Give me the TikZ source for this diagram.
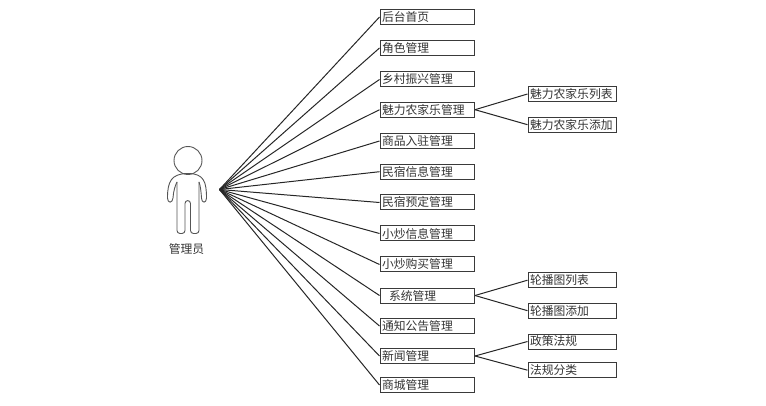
\documentclass[tikz,border=0pt]{standalone}
\usepackage{fontspec}
\setmainfont{Noto Sans CJK SC}
\definecolor{ink}{HTML}{333333}
\definecolor{frame}{HTML}{3A3A3A}
\definecolor{figure}{HTML}{555555}

\begin{document}
\begin{tikzpicture}[x=1pt,y=-1pt,
  every node/.style={text=ink,font=\fontsize{11.8}{13}\selectfont,inner sep=0pt},
  item/.style={draw=frame,line width=1pt,anchor=west,minimum height=15pt,
    text width=90.5pt,inner xsep=2pt,align=left},
  subitem/.style={item,text width=84.5pt},
  link/.style={draw=black!85,line width=1pt},
  actor/.style={draw=figure,line width=.9pt,line join=round}]
\useasboundingbox (0,0) rectangle (766,406);

% Actor outline, drawn directly.
\draw[actor] (188,160.5) circle (14);
\draw[actor,rounded corners=3pt] (177,182) -- (177,233.5) -- (185,233.5) -- (185,200.5)
  -- (190.5,200.5) -- (190.5,233.5) -- (199,233.5) -- (199,182);
\draw[actor] (177,182) .. controls (175,186) and (173.5,191) .. (173,198)
  .. controls (172.5,203.5) and (167.5,203.5) .. (167.5,198)
  .. controls (167.5,182) and (171,173.5) .. (188,173.5)
  .. controls (204,173.5) and (206.5,182) .. (206.5,198)
  .. controls (206.5,203.5) and (201.5,203.5) .. (201.5,198)
  .. controls (201,191) and (200.5,186) .. (199,182);
\node (adminlabel) at (186.5,249) {管理员};
\coordinate (hub) at (219.5,189.5);

% First level, one box for each function.
\node[item] (home)    at (379.5,17)    {后台首页};
\node[item] (role)    at (379.5,48)    {角色管理};
\node[item] (village) at (379.5,79.5)  {乡村振兴管理};
\node[item] (farm)    at (379.5,109.7) {魅力农家乐管理};
\node[item] (goods)   at (379.5,141)   {商品入驻管理};
\node[item] (stayinfo) at (379.5,171.7) {民宿信息管理};
\node[item] (staybook) at (379.5,202.5) {民宿预定管理};
\node[item] (foodinfo) at (379.5,233.5) {小炒信息管理};
\node[item] (foodbuy) at (379.5,264.5) {小炒购买管理};
\node[item] (system)  at (379.5,295.5) {\hspace*{7pt}系统管理};
\node[item] (notice)  at (379.5,326)   {通知公告管理};
\node[item] (news)    at (379.5,356)   {新闻管理};
\node[item] (shop)    at (379.5,385)   {商城管理};

% Second level.
\node[subitem] (farmlist) at (527.5,94)    {魅力农家乐列表};
\node[subitem] (farmadd)  at (527.5,124.7) {魅力农家乐添加};
\node[subitem] (slidelist) at (527.5,280.2) {轮播图列表};
\node[subitem] (slideadd) at (527.5,310.7) {轮播图添加};
\node[subitem] (policy)   at (527.5,341.5) {政策法规};
\node[subitem] (lawtype)  at (527.5,370.2) {法规分类};

\draw[link] (hub) -- (home.west);
\draw[link] (hub) -- (role.west);
\draw[link] (hub) -- (village.west);
\draw[link] (hub) -- (farm.west);
\draw[link] (hub) -- (goods.west);
\draw[link] (hub) -- (stayinfo.west);
\draw[link] (hub) -- (staybook.west);
\draw[link] (hub) -- (foodinfo.west);
\draw[link] (hub) -- (foodbuy.west);
\draw[link] (hub) -- (system.west);
\draw[link] (hub) -- (notice.west);
\draw[link] (hub) -- (news.west);
\draw[link] (hub) -- (shop.west);

\draw[link] (farm.east) -- (farmlist.west);
\draw[link] (farm.east) -- (farmadd.west);
\draw[link] (system.east) -- (slidelist.west);
\draw[link] (system.east) -- (slideadd.west);
\draw[link] (news.east) -- (policy.west);
\draw[link] (news.east) -- (lawtype.west);
\end{tikzpicture}
\end{document}
